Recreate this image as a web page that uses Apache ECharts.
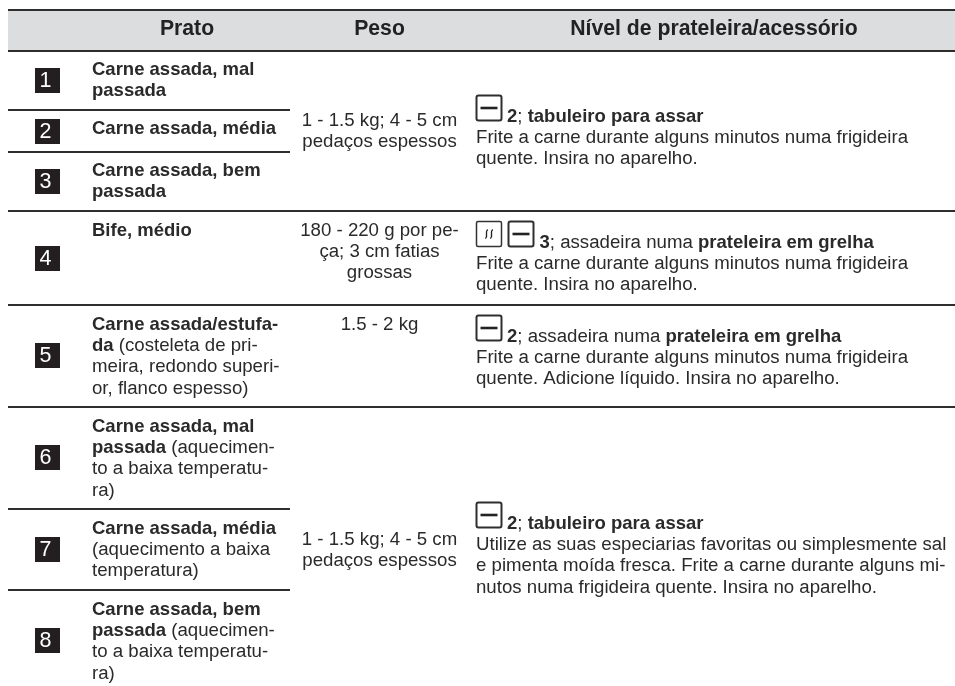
<!DOCTYPE html>
<html><head><meta charset="utf-8">
<style>html,body{margin:0;padding:0;background:#fff}#c{width:955px;height:686px}</style>
<script src="https://cdn.jsdelivr.net/npm/echarts@6/dist/echarts.min.js"></script>
</head><body><div id="c"></div>
<script>
// ---- table content ----
var headers = ['Prato', 'Peso', 'Nível de prateleira/acessório'];
var rowNumbers = ['1','2','3','4','5','6','7','8'];
// {b|...} marks bold runs
var dishes = [
  ['{b|Carne assada, mal}', '{b|passada}'],
  ['{b|Carne assada, média}'],
  ['{b|Carne assada, bem}', '{b|passada}'],
  ['{b|Bife, médio}'],
  ['{b|Carne assada/estufa-}', '{b|da} (costeleta de pri-', 'meira, redondo superi-', 'or, flanco espesso)'],
  ['{b|Carne assada, mal}', '{b|passada} (aquecimen-', 'to a baixa temperatu-', 'ra)'],
  ['{b|Carne assada, média}', '(aquecimento a baixa', 'temperatura)'],
  ['{b|Carne assada, bem}', '{b|passada} (aquecimen-', 'to a baixa temperatu-', 'ra)']
];
var weights = [
  ['1 - 1.5 kg; 4 - 5 cm', 'pedaços espessos'],
  ['180 - 220 g por pe-', 'ça; 3 cm fatias', 'grossas'],
  ['1.5 - 2 kg'],
  ['1 - 1.5 kg; 4 - 5 cm', 'pedaços espessos']
];
var shelves = [
  ['{b|2}; {b|tabuleiro para assar}', 'Frite a carne durante alguns minutos numa frigideira', 'quente. Insira no aparelho.'],
  ['{b|3}; assadeira numa {b|prateleira em grelha}', 'Frite a carne durante alguns minutos numa frigideira', 'quente. Insira no aparelho.'],
  ['{b|2}; assadeira numa {b|prateleira em grelha}', 'Frite a carne durante alguns minutos numa frigideira', 'quente. Adicione líquido. Insira no aparelho.'],
  ['{b|2}; {b|tabuleiro para assar}', 'Utilize as suas especiarias favoritas ou simplesmente sal', 'e pimenta moída fresca. Frite a carne durante alguns mi-', 'nutos numa frigideira quente. Insira no aparelho.']
];

// ---- layout ----
var INK = '#2b2a2b', SIZE = 18.65, BOLD = 18.5, HEAD = 21.2, DY = 1.5;
var numberTops = [68,119,169,246,343,445,537,628];
var dishFirstY = [68,127,169,229,323,425,527,608];
var weightFirstY = [119,229,323,538];
var shelfFirstY = [115,241,335,522];
var ruleYs = [[10,955],[51,955],[110,290],[152,290],[211,955],[305,955],[407,955],[509,290],[590,290]];
var lineStep = 21.4;
var g = [];

g.push({type:'rect',shape:{x:8,y:10,width:947,height:41},style:{fill:'#dcdddf'},silent:true});
ruleYs.forEach(function(r){
  g.push({type:'line',shape:{x1:8,y1:r[0],x2:r[1],y2:r[0]},style:{stroke:'#2e2e2e',lineWidth:1.8},silent:true});
});
function txt(x,y,s,align,size,weight,fill){
  g.push({type:'text',x:x,y:y+DY,silent:true,style:{
    text:s,x:0,y:0,align:align||'left',verticalAlign:'middle',
    fontFamily:'Liberation Sans',fontSize:size||SIZE,fontWeight:weight||'normal',fill:fill||INK,
    rich:{b:{fontFamily:'Liberation Sans',fontSize:BOLD,fontWeight:'bold',fill:fill||INK}}
  }});
}
[187,379.5,714].forEach(function(x,i){ txt(x,28,headers[i],'center',HEAD,'bold','#222'); });

rowNumbers.forEach(function(n,i){
  g.push({type:'rect',shape:{x:35,y:numberTops[i],width:25,height:25},style:{fill:'#231f20'},silent:true});
  txt(45.5,numberTops[i]+12,n,'center',21.5,'normal','#fff');
});
dishes.forEach(function(lines,i){
  lines.forEach(function(s,j){ txt(92,dishFirstY[i]+j*lineStep,s); });
});
weights.forEach(function(lines,i){
  lines.forEach(function(s,j){ txt(379.5,weightFirstY[i]+j*lineStep,s,'center'); });
});

function shelfIcon(x,y){
  g.push({type:'rect',shape:{x:x,y:y,width:25,height:25,r:2},style:{fill:'none',stroke:'#2e2e2e',lineWidth:2},silent:true});
  g.push({type:'line',shape:{x1:x+4,y1:y+12.5,x2:x+21,y2:y+12.5},style:{stroke:'#222',lineWidth:2.6},silent:true});
}
function steamIcon(x,y){
  g.push({type:'rect',shape:{x:x,y:y,width:25,height:25,r:1.5},style:{fill:'none',stroke:'#333',lineWidth:1.5},silent:true});
  [10,15].forEach(function(dx){
    g.push({type:'bezierCurve',shape:{x1:x+dx+1.2,y1:y+8,cpx1:x+dx-2.4,cpy1:y+11,cpx2:x+dx+2.4,cpy2:y+14,x2:x+dx-1.2,y2:y+17},style:{fill:'none',stroke:'#222',lineWidth:1.4},silent:true});
  });
}
shelfIcon(476.5,95.5);
steamIcon(476.5,221.5); shelfIcon(508.5,221.5);
shelfIcon(476.5,315.5);
shelfIcon(476.5,502.5);

var shelfTextX = [507,539.5,507,507];
shelves.forEach(function(lines,i){
  lines.forEach(function(s,j){ txt(j===0?shelfTextX[i]:476,shelfFirstY[i]+j*lineStep,s); });
});

var chart = echarts.init(document.getElementById('c'),null,{renderer:'canvas'});
chart.setOption({animation:false,backgroundColor:'#fff',graphic:{elements:g}});
</script></body></html>
